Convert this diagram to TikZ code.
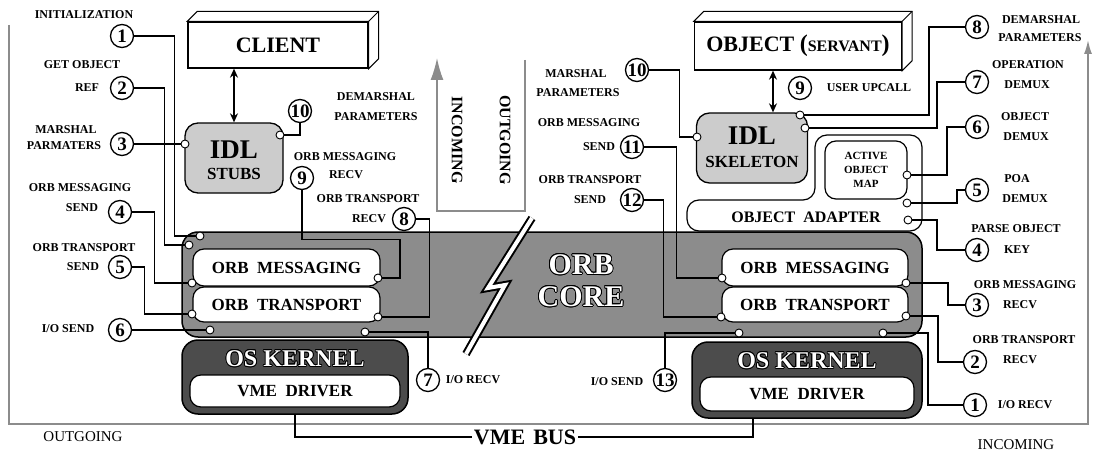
\documentclass[tikz,border=0pt]{standalone}
\usepackage{fontspec}
\setmainfont{Liberation Serif}
\usepackage{xcolor}
\usepackage{tikz}
\usepackage{contour}
\usetikzlibrary{
  arrows.meta,
  positioning,
  calc
}
\contourlength{0.8pt}
\newcommand{\lblfont}{\fontsize{12}{13}\selectfont\bfseries}
\newcommand{\numfont}{\fontsize{19}{19}\selectfont\bfseries}
\newcommand{\boxfont}{\fontsize{17}{18}\selectfont\bfseries}
\newcommand{\bigfont}{\fontsize{22}{24}\selectfont\bfseries}
\newcommand{\idlfont}{\fontsize{27}{28}\selectfont\bfseries}
\newcommand{\corefont}{\fontsize{30}{32}\selectfont\bfseries}
\newcommand{\kernfont}{\fontsize{24}{26}\selectfont\bfseries}
\newcommand{\dirfont}{\fontsize{15}{16}\selectfont}
\newcommand{\turnfont}{\fontsize{16}{16}\selectfont\bfseries}
\newcommand{\mapfont}{\fontsize{11}{14}\selectfont\bfseries}
\definecolor{coregray}{gray}{0.55}
\definecolor{kernelgray}{gray}{0.3}
\definecolor{idlgray}{gray}{0.8}
\definecolor{flowgray}{gray}{0.55}
\tikzset{
  lbl/.style={font=\lblfont,inner sep=0pt},
  num/.style={circle,draw,line width=1.3pt,fill=white,minimum size=23pt,inner sep=0pt,font=\numfont},
  port/.style={circle,draw,line width=0.9pt,fill=white,minimum size=8pt,inner sep=0pt},
  wire/.style={line width=1.3pt},
  solidbox/.style={draw,line width=1.3pt,fill=white,inner sep=0pt,font=\bigfont},
  idlbox/.style={draw,line width=1.3pt,fill=idlgray,rounded corners=13pt,inner sep=0pt},
  layerbox/.style={draw,line width=1.2pt,fill=white,rounded corners=11pt,inner sep=0pt,font=\boxfont},
  corebox/.style={draw,line width=1.5pt,fill=coregray,rounded corners=16pt,inner sep=0pt},
  kernelbox/.style={draw,line width=1.5pt,fill=kernelgray,rounded corners=16pt,inner sep=0pt},
  flow/.style={draw=flowgray,line width=1.6pt},
  flowhead/.style={flow,-{Latex[length=22pt,width=13pt]}},
  updown/.style={{Stealth[length=9pt,width=8pt]}-{Stealth[length=9pt,width=8pt]},line width=1.3pt},
  bus/.style={line width=1.8pt},
  whitetxt/.style={text=white,inner sep=0pt}
}

\begin{document}
\begin{tikzpicture}[x=1pt,y=-1pt]
  \useasboundingbox (0,0) rectangle (1093,452);

  % outgoing / incoming flow
  \coordinate (outstart) at (9,25);
  \coordinate (outcorner) at (9,424);
  \coordinate (incorner) at (1088,424);
  \coordinate (inend) at (1088,40);
  \draw[flow,-{Latex[length=14pt,width=8pt]}] (outstart) -- (outcorner) -- (incorner) -- (inend);
  \coordinate (turnout) at (525,60);
  \coordinate (turnbr) at (525,211);
  \coordinate (turnbl) at (437,211);
  \coordinate (turnin) at (437,58);
  \draw[flowhead] (turnout) -- (turnbr) -- (turnbl) -- (turnin);
  \node[font=\turnfont,rotate=-90,inner sep=0pt] (incomingmid) at (457,140) {INCOMING};
  \node[font=\turnfont,rotate=-90,inner sep=0pt] (outgoingmid) at (505,140) {OUTGOING};
  \node[font=\dirfont,inner sep=0pt] (outgoing) at (83,437) {OUTGOING};
  \node[font=\dirfont,inner sep=0pt] (incoming) at (1016,445) {INCOMING};

  % client and servant
  \node[solidbox,minimum width=180pt,minimum height=46pt] (client) at (278,45) {CLIENT};
  \draw[line width=1pt,fill=white] (client.north west) -- ++(10,-10) -| ($(client.south east)+(10,-10)$) -- (client.south east) -- (client.north east) -- cycle;
  \draw[line width=1pt] (client.north east) -- ++(10,-10);
  \node[solidbox,minimum width=207pt,minimum height=48pt] (object) at (798,46)
    {OBJECT {\fontsize{24}{24}\selectfont(}{\fontsize{16}{16}\selectfont SERVANT}{\fontsize{24}{24}\selectfont)}};
  \draw[line width=1pt,fill=white] (object.north west) -- ++(10,-10) -| ($(object.south east)+(10,-10)$) -- (object.south east) -- (object.north east) -- cycle;
  \draw[line width=1pt] (object.north east) -- ++(10,-10);

  \node[idlbox,minimum width=98pt,minimum height=70pt] (stubs) at (234,158) {};
  \node[font=\idlfont,inner sep=0pt] (stubsidl) at (234,150) {IDL};
  \node[font=\boxfont,inner sep=0pt] (stubstxt) at (234,174) {STUBS};
  \node[idlbox,minimum width=111pt,minimum height=70pt] (skel) at (752,148) {};
  \node[font=\idlfont,inner sep=0pt] (skelidl) at (752,136) {IDL};
  \node[font=\boxfont,inner sep=0pt] (skeltxt) at (752,162) {SKELETON};
  \coordinate (skeltop) at ([xshift=21pt]skel.north);
  \draw[updown] (client.south -| stubs.north) -- (stubs.north);
  \draw[updown] (object.south -| skeltop) -- (skeltop);

  % object adapter
  \draw[line width=1.2pt,fill=white,rounded corners=12pt] (687,231) -- (687,200) -- (815,200) -- (815,135) -- (922,135) -- (922,231) -- cycle;
  \node[font=\fontsize{16}{16}\selectfont\bfseries,inner sep=0pt] (oatxt) at (806,217) {OBJECT\ \ ADAPTER};
  \node[layerbox,font=\mapfont,align=center,minimum width=82pt,minimum height=58pt] (aom) at (866,170) {ACTIVE\\OBJECT\\MAP};

  % orb core
  \node[corebox,minimum width=740pt,minimum height=105pt] (core) at (552,284.5) {};
  \node[layerbox,minimum width=187pt,minimum height=37pt] (msgL) at (286.5,267.5) {ORB\ \ MESSAGING};
  \node[layerbox,minimum width=187pt,minimum height=35pt] (trnL) at (286.5,304.5) {ORB\ \ TRANSPORT};
  \node[layerbox,minimum width=186pt,minimum height=37pt] (msgR) at (815,267.5) {ORB\ \ MESSAGING};
  \node[layerbox,minimum width=186pt,minimum height=35pt] (trnR) at (815,304.5) {ORB\ \ TRANSPORT};
  \node[whitetxt,font=\corefont,align=center] (coretxt) at (581,281) {\contour{black}{ORB}\\\contour{black}{CORE}};
  \coordinate (brka) at (532,218);
  \coordinate (brkb) at (488,288);
  \coordinate (brkc) at (505,285);
  \coordinate (brkd) at (466,354);
  \draw[line width=8pt,line join=miter] (brka) -- (brkb) -- (brkc) -- (brkd);
  \draw[white,line width=4pt,line join=miter] (brka) -- (brkb) -- (brkc) -- (brkd);

  % os kernels and bus
  \node[kernelbox,minimum width=226pt,minimum height=74pt] (osL) at (295,377) {};
  \node[whitetxt,font=\kernfont] (kernL) at (295,359) {\contour{black}{OS KERNEL}};
  \node[layerbox,minimum width=210pt,minimum height=32pt] (drvL) at (295,391) {VME\ \ DRIVER};
  \node[kernelbox,minimum width=230pt,minimum height=76pt] (osR) at (807,380) {};
  \node[whitetxt,font=\kernfont] (kernR) at (807,361) {\contour{black}{OS KERNEL}};
  \node[layerbox,minimum width=214pt,minimum height=34pt] (drvR) at (807,394) {VME\ \ DRIVER};
  \node[font=\bigfont,inner sep=2pt] (vme) at (525,437) {VME\hspace{8pt}BUS};
  \draw[bus] (osL.south) |- (vme.west);
  \draw[bus] (vme.east) -| ([xshift=-54pt]osR.south);

  % numbered steps
  \node[num] (n1) at (122,36) {1};
  \node[num] (n2) at (122,88) {2};
  \node[num] (n3) at (122,144) {3};
  \node[num] (n4) at (120,212) {4};
  \node[num] (n5) at (120,267) {5};
  \node[num] (n6) at (120,330) {6};
  \node[num] (n7) at (428,380) {7};
  \node[num] (n8) at (404,219) {8};
  \node[num] (n9) at (302,178) {9};
  \node[num] (n10) at (300,111) {10};
  \node[num] (n10r) at (637,70) {10};
  \node[num] (n11) at (632,147) {11};
  \node[num] (n12) at (632,200) {12};
  \node[num] (n13) at (665,380) {13};
  \node[num] (n9r) at (800,88) {9};
  \node[num] (n8r) at (977,27) {8};
  \node[num] (n7r) at (977,82) {7};
  \node[num] (n6r) at (977,127) {6};
  \node[num] (n5r) at (977,190) {5};
  \node[num] (n4r) at (977,250) {4};
  \node[num] (n3r) at (977,305) {3};
  \node[num] (n2r) at (975,362) {2};
  \node[num] (n1r) at (975,405) {1};

  \node[port] (p1) at (200,236) {};
  \node[port] (p2) at (189,245) {};
  \node[port] (p3) at (185,144) {};
  \node[port] (p4) at (192,283) {};
  \node[port] (p5) at (192,314) {};
  \node[port] (p6) at (210,330) {};
  \node[port] (p7) at (365,332) {};
  \node[port] (p8) at (378,317) {};
  \node[port] (p9) at (378,278) {};
  \node[port] (p10) at (280,135) {};
  \node[port] (p10r) at (697,137) {};
  \node[port] (p11) at (722,278) {};
  \node[port] (p12) at (721,317) {};
  \node[port] (p13) at (739,333) {};
  \node[port] (p8r) at (800,115) {};
  \node[port] (p7r) at (805,128) {};
  \node[port] (p6r) at (907,175) {};
  \node[port] (p5r) at (907,203) {};
  \node[port] (p4r) at (908,220) {};
  \node[port] (p3r) at (906,283) {};
  \node[port] (p2r) at (906,316) {};
  \node[port] (p1r) at (883,333) {};

  \draw[wire] (n1.east) -- ++(40,0) |- (p1);
  \draw[wire] (n2.east) -- ++(30,0) |- (p2);
  \draw[wire] (n3) -- (p3);
  \draw[wire] (n4.east) -- ++(22,0) |- (p4);
  \draw[wire] (n5.east) -- ++(12,0) |- (p5);
  \draw[wire] (n6) -- (p6);
  \draw[wire] (p7) -| (n7);
  \draw[wire] (n8.east) -- ++(13,0) |- (p8);
  \draw[wire] (n9.south) -- ++(0,49) -- ++(98,0) |- (p9);
  \draw[wire] (p10) -| (n10);
  \draw[wire] (n10r.east) -- ++(30,0) |- (p10r);
  \draw[wire] (n11.east) -- ++(32,0) |- (p11);
  \draw[wire] (n12.east) -- ++(19,0) |- (p12);
  \draw[wire] (p13) -| (n13);
  \draw[wire] (n8r.west) -- ++(-36,0) |- (p8r);
  \draw[wire] (n7r.west) -- ++(-28,0) |- (p7r);
  \draw[wire] (n6r.west) -- ++(-18,0) |- (p6r);
  \draw[wire] (n5r.west) -- ++(-8,0) |- (p5r);
  \draw[wire] (p4r) -- ++(29,0) |- (n4r);
  \draw[wire] (p3r) -- ++(42,0) |- (n3r);
  \draw[wire] (p2r) -- ++(32,0) |- (n2r);
  \draw[wire] (p1r) -- ++(45,0) |- (n1r);

  % labels
  \node[lbl] (lInit) at (84,15) {INITIALIZATION};
  \node[lbl] (lGet) at (82,65) {GET OBJECT};
  \node[lbl] (lRef) at (87,88) {REF};
  \node[lbl] (lMar) at (66,130) {MARSHAL};
  \node[lbl] (lPar) at (64,146) {PARMATERS};
  \node[lbl] (lMsgS) at (80,188) {ORB MESSAGING};
  \node[lbl] (lMsgSb) at (82,208) {SEND};
  \node[lbl] (lTrS) at (84,248) {ORB TRANSPORT};
  \node[lbl] (lTrSb) at (83,267) {SEND};
  \node[lbl] (lIoS) at (68,329) {I/O SEND};
  \node[lbl] (lMsgR) at (345,157) {ORB MESSAGING};
  \node[lbl] (lMsgRb) at (346,175) {RECV};
  \node[lbl] (lTrR) at (368,199) {ORB TRANSPORT};
  \node[lbl] (lTrRb) at (369,219) {RECV};
  \node[lbl] (lDem) at (376,97) {DEMARSHAL};
  \node[lbl] (lDemb) at (376,117) {PARAMETERS};
  \node[lbl] (lIoR) at (473,380) {I/O RECV};
  \node[lbl] (rIoS) at (617,382) {I/O SEND};
  \node[lbl] (rMar) at (576,74) {MARSHAL};
  \node[lbl] (rPar) at (578,93) {PARAMETERS};
  \node[lbl] (rMsgS) at (589,123) {ORB MESSAGING};
  \node[lbl] (rMsgSb) at (599,147) {SEND};
  \node[lbl] (rTrS) at (590,180) {ORB TRANSPORT};
  \node[lbl] (rTrSb) at (590,200) {SEND};
  \node[lbl] (rUp) at (869,88) {USER UPCALL};
  \node[lbl] (rDem) at (1041,20) {DEMARSHAL};
  \node[lbl] (rDemb) at (1040,38) {PARAMETERS};
  \node[lbl] (rOp) at (1028,65) {OPERATION};
  \node[lbl] (rOpb) at (1027,85) {DEMUX};
  \node[lbl] (rObj) at (1025,117) {OBJECT};
  \node[lbl] (rObjb) at (1026,137) {DEMUX};
  \node[lbl] (rPoa) at (1017,179) {POA};
  \node[lbl] (rPoab) at (1025,199) {DEMUX};
  \node[lbl] (rKey) at (1016,229) {PARSE OBJECT};
  \node[lbl] (rKeyb) at (1017,250) {KEY};
  \node[lbl] (rMsgR) at (1025,285) {ORB MESSAGING};
  \node[lbl] (rMsgRb) at (1020,305) {RECV};
  \node[lbl] (rTrR) at (1024,340) {ORB TRANSPORT};
  \node[lbl] (rTrRb) at (1020,360) {RECV};
  \node[lbl] (rIoR) at (1025,405) {I/O RECV};
\end{tikzpicture}
\end{document}
